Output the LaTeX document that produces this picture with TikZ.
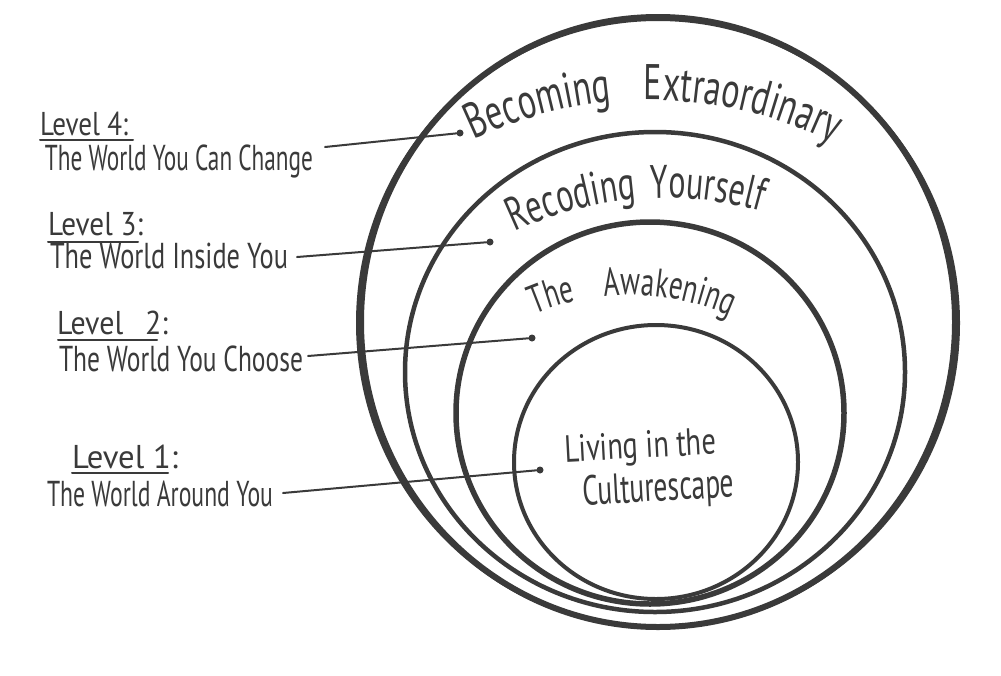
\documentclass[tikz,border=0pt]{standalone}
\usepackage{fontspec}
\newfontfamily\hand[FakeStretch=0.68]{PT Sans}
\usetikzlibrary{decorations.text}
\definecolor{ink}{HTML}{3A3A3A}
\newcommand{\fitw}[2]{\resizebox{#1}{\height}{#2}}
\begin{document}
\begin{tikzpicture}[x=1pt,y=-1pt,
  every node/.style={inner sep=0pt, outer sep=0pt, text=ink},
  lbl/.style={anchor=base west, font=\hand\fontsize{33}{36}\selectfont},
  sub/.style={anchor=base west, font=\hand\fontsize{36}{40}\selectfont},
  inner/.style={anchor=base west, font=\hand\fontsize{38}{42}\selectfont},
  conn/.style={draw=ink, line width=2pt, line cap=round},
  dotn/.style={circle, fill=ink, minimum size=7pt, inner sep=0pt},
  uline/.style={draw=ink, line width=2pt, line cap=round},
  ring/.style={draw=ink},
  curved/.style={decorate, decoration={text along path, text color=ink,
     text align={fit to path stretching spaces}, text={#1}}}
]
\fill[white] (0,0) rectangle (1001,675);
\useasboundingbox (0,0) rectangle (1001,675);

% rings
\draw[ring, line width=6pt] (658,322) ellipse [x radius=297, y radius=305];
\draw[ring, line width=4pt] (658,323) ellipse [x radius=300, y radius=304];
\draw[ring, line width=4.5pt] (655,372) ellipse [x radius=250, y radius=240];
\draw[ring, line width=5.5pt] (650,413) ellipse [x radius=194, y radius=191];
\draw[ring, line width=4pt] (656,462) ellipse [x radius=142, y radius=137];

% curved ring titles
\coordinate (cB) at (650,510);
\coordinate (cR) at (665,548);
\coordinate (cA) at (630,540);
\path[curved={|\hand\fontsize{50}{60}\selectfont|Becoming Extraordinary}]
  ([shift={(-115.5:410)}]cB) arc[start angle=-115.5, end angle=-63.5, radius=410];
\path[curved={|\hand\fontsize{47}{55}\selectfont|Recoding Yourself}]
  ([shift={(-115.5:350)}]cR) arc[start angle=-115.5, end angle=-74, radius=350];
\path[curved={|\hand\fontsize{40}{44}\selectfont|The Awakening}]
  ([shift={(-113:245)}]cA) arc[start angle=-113, end angle=-66, radius=245];

% innermost text
\node[inner, rotate=3] (liv) at (565,462) {\fitw{152pt}{Living in the}};
\node[inner, rotate=3, font=\hand\fontsize{42}{46}\selectfont] (cul) at (583,505) {\fitw{152pt}{Culturescape}};

% level 4
\node[lbl] (h4) at (40,135) {\fitw{88pt}{Level 4:}};
\node[sub] (t4) at (45,170) {\fitw{268pt}{The World You Can Change}};
\node[dotn] (d4) at (460,133) {};
\draw[uline] ([yshift=-5pt]h4.base west) -- ([xshift=5pt,yshift=-5pt]h4.base east);
\draw[conn] (t4.base east) ++(12,-23) -- (d4);

% level 3
\node[lbl] (h3) at (48,235) {\fitw{95pt}{Level 3:}};
\node[sub] (t3) at (50,268) {\fitw{238pt}{The World Inside You}};
\node[dotn] (d3) at (490,242) {};
\draw[uline] ([yshift=-7pt]h3.base west) -- ([xshift=-5pt,yshift=-7pt]h3.base east);
\draw[conn] (t3.base east) ++(9,-11) -- (d3);

% level 2
\node[lbl] (h2) at (57,334) {\fitw{111pt}{Level\enspace 2:}};
\node[sub] (t2) at (59,371) {\fitw{244pt}{The World You Choose}};
\node[dotn] (d2) at (532,338) {};
\draw[uline] ([xshift=1pt,yshift=-6pt]h2.base west) -- ([xshift=-11pt,yshift=-6pt]h2.base east);
\draw[conn] (t2.base east) ++(5,-15) -- (d2);

% level 1
\node[lbl] (h1) at (72,468) {\fitw{106pt}{Level 1:}};
\node[sub] (t1) at (47,506) {\fitw{226pt}{The World Around You}};
\node[dotn] (d1) at (540,470) {};
\draw[uline] ([yshift=-5pt]h1.base west) -- ([xshift=-10pt,yshift=-5pt]h1.base east);
\draw[conn] (t1.base east) ++(10,-13) -- (d1);
\end{tikzpicture}
\end{document}
